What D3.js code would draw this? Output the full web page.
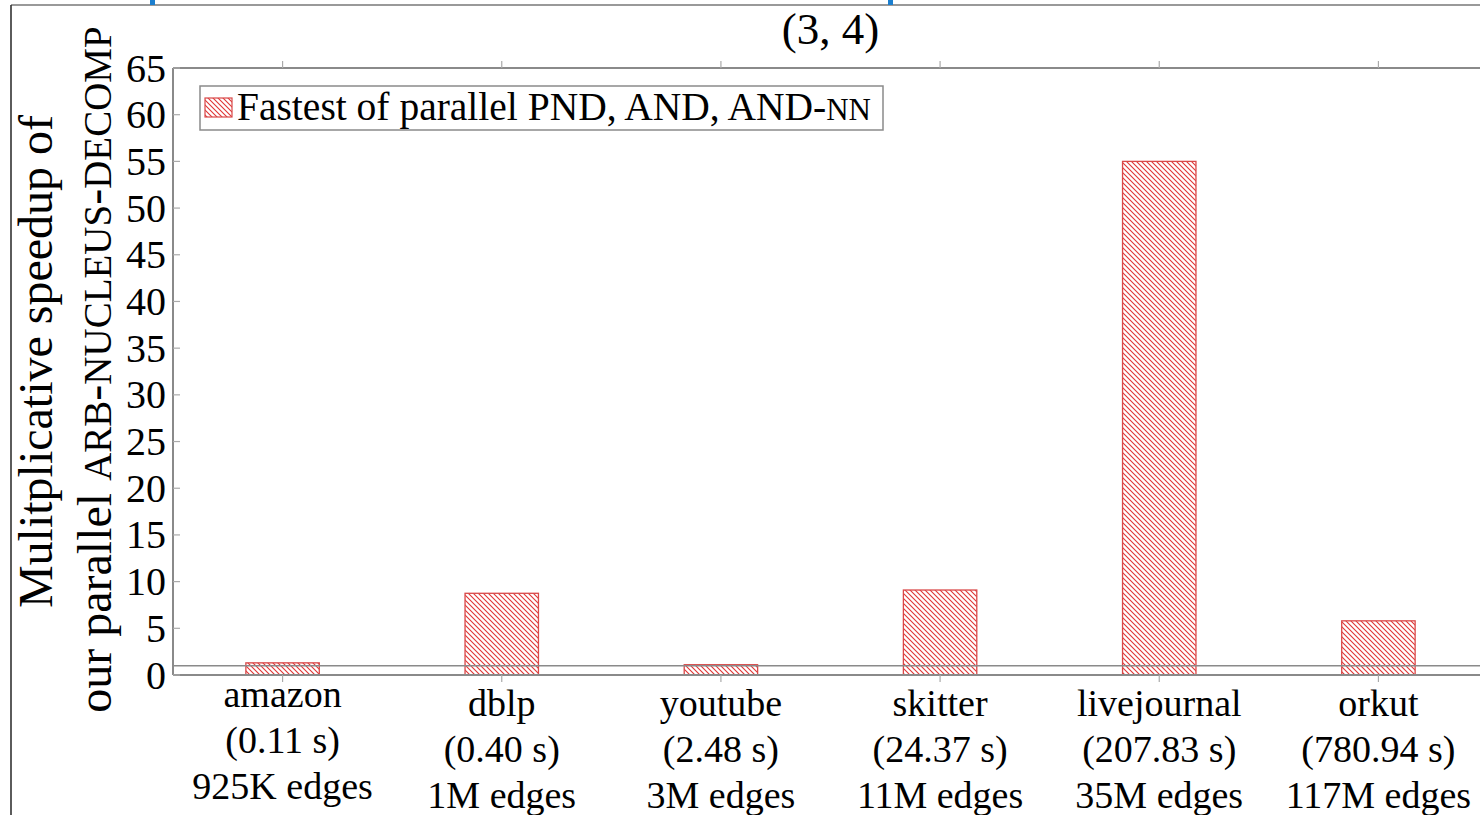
<!DOCTYPE html>
<html><head><meta charset="utf-8">
<script src="https://cdn.jsdelivr.net/npm/d3@7"></script>
<style>html,body{margin:0;padding:0;background:#fff;overflow:hidden}svg{display:block}</style>
</head><body>
<svg id="chart" width="1480" height="815"></svg>
<script>
const categories = ["amazon","dblp","youtube","skitter","livejournal","orkut"];
const runtimes = ["(0.11 s)","(0.40 s)","(2.48 s)","(24.37 s)","(207.83 s)","(780.94 s)"];
const edgeCounts = ["925K edges","1M edges","3M edges","11M edges","35M edges","117M edges"];
const speedup = [1.3, 8.75, 1.1, 9.1, 55.0, 5.8];
const yTicks = [0,5,10,15,20,25,30,35,40,45,50,55,60,65];
const referenceLine = 1;
const title = "(3, 4)";

const FONT = "'Liberation Serif','Times New Roman',serif";
const svg = d3.select("#chart");
const L = 173, R = 1488, T = 68, B = 675;
const red = "#e03535", axisGray = "#8a8a8a";

const x = d3.scaleBand().domain(categories).range([L, R]).paddingInner(0.665).paddingOuter(0.3325);
const y = d3.scaleLinear().domain([0, 65]).range([B, T]);

// pattern
const defs = svg.append("defs");
const pat = defs.append("pattern").attr("id","nwl").attr("patternUnits","userSpaceOnUse")
  .attr("width",5).attr("height",5);
pat.append("rect").attr("width",5).attr("height",5).attr("fill","#fff");
pat.append("path").attr("d","M0,0L5,5M-1,4L1,6M4,-1L6,1").attr("stroke",red).attr("stroke-width",1.1);

// outer frame + marks
svg.append("line").attr("x1",11).attr("x2",1480).attr("y1",5).attr("y2",5).attr("stroke","#777").attr("stroke-width",1.5);
svg.append("line").attr("x1",11).attr("x2",11).attr("y1",5).attr("y2",815).attr("stroke","#333").attr("stroke-width",1.6);
svg.append("rect").attr("x",150).attr("y",0).attr("width",5).attr("height",5).attr("fill","#1b7fcf");
svg.append("rect").attr("x",888).attr("y",0).attr("width",5).attr("height",5).attr("fill","#1b7fcf");

// bars
svg.append("g").selectAll("rect").data(categories).join("rect")
  .attr("x", d => x(d)).attr("width", x.bandwidth())
  .attr("y", (d,i) => y(speedup[i])).attr("height", (d,i) => y(0) - y(speedup[i]))
  .attr("fill","url(#nwl)").attr("stroke","#d94848").attr("stroke-width",1.3);

// reference line at 1
svg.append("line").attr("x1",L).attr("x2",R).attr("y1",y(referenceLine)).attr("y2",y(referenceLine))
  .attr("stroke",axisGray).attr("stroke-width",1.5);

// axes frame
const ax = svg.append("g");
ax.append("line").attr("x1",L).attr("x2",R).attr("y1",T).attr("y2",T).attr("stroke",axisGray).attr("stroke-width",2);
ax.append("line").attr("x1",L).attr("x2",R).attr("y1",B).attr("y2",B).attr("stroke",axisGray).attr("stroke-width",2);
ax.append("line").attr("x1",L).attr("x2",L).attr("y1",T).attr("y2",B).attr("stroke",axisGray).attr("stroke-width",2);
ax.append("line").attr("x1",R).attr("x2",R).attr("y1",T).attr("y2",B).attr("stroke",axisGray).attr("stroke-width",2);

// x ticks (outward top and bottom)
const xc = d => x(d) + x.bandwidth()/2;
ax.selectAll(".xtb").data(categories).join("line").attr("class","xtb").attr("x1",xc).attr("x2",xc).attr("y1",B).attr("y2",B+7).attr("stroke","#aaa").attr("stroke-width",1.2);
ax.selectAll(".xtt").data(categories).join("line").attr("class","xtt").attr("x1",xc).attr("x2",xc).attr("y1",T).attr("y2",T-7).attr("stroke","#aaa").attr("stroke-width",1.2);

// y ticks inward
ax.selectAll(".yt").data(yTicks).join("line").attr("class","yt").attr("x1",L).attr("x2",L+7).attr("y1",d=>y(d)).attr("y2",d=>y(d)).attr("stroke","#aaa").attr("stroke-width",1.2);
ax.selectAll(".ytl").data(yTicks).join("text").attr("class","ytl")
  .attr("x",166).attr("y",d=>y(d)+13.5).attr("text-anchor","end")
  .attr("font-family",FONT).attr("font-size",40).attr("fill","#000").text(d=>d);

// x labels
const cv = document.createElement("canvas").getContext("2d");
const xfs = 38;
cv.font = xfs + "px 'Liberation Serif'";
function ascent(s){ const m = cv.measureText(s); return (m && m.actualBoundingBoxAscent) ? m.actualBoundingBoxAscent : 0.68*xfs; }
const xl = svg.append("g").selectAll("text").data(categories).join("text")
  .attr("text-anchor","middle").attr("font-family",FONT).attr("font-size",xfs).attr("fill","#000");
xl.each(function(d,i){
  const t = d3.select(this);
  const b0 = 688.5 + ascent(d);
  [d, runtimes[i], edgeCounts[i]].forEach((s,k) => {
    t.append("tspan").attr("x", xc(d)).attr("y", b0 + k*46).text(s);
  });
});

// title
svg.append("text").attr("x",(L+R)/2).attr("y",44).attr("text-anchor","middle")
  .attr("font-family",FONT).attr("font-size",45).text(title);

// legend
const lg = svg.append("g");
lg.append("rect").attr("x",200).attr("y",86).attr("width",683).attr("height",44).attr("fill","#fff").attr("stroke",axisGray).attr("stroke-width",1.5);
lg.append("rect").attr("x",205).attr("y",98).attr("width",27).attr("height",19).attr("fill","url(#nwl)").attr("stroke","#d94848").attr("stroke-width",1.2);
const lt = lg.append("text").attr("x",237).attr("y",120).attr("font-family",FONT).attr("font-size",39.5);
lt.append("tspan").text("Fastest of parallel PND, AND, AND-");
lt.append("tspan").attr("font-size",31).text("NN");

// y label
const yc = (T+B)/2;
const yfs = 48, sc = 39;
svg.append("text").attr("transform",`translate(52,${yc - 10}) rotate(-90)`).attr("text-anchor","middle")
  .attr("font-family",FONT).attr("font-size",yfs).text("Mulitplicative speedup of");
const y2 = svg.append("text").attr("transform",`translate(111,${yc - 2}) rotate(-90)`).attr("text-anchor","middle")
  .attr("font-family",FONT).attr("font-size",yfs);
[["our parallel ",yfs],["ARB",sc],["-",yfs],["NUCLEUS",sc],["-",yfs],["DECOMP",sc]].forEach(([s,f]) => {
  y2.append("tspan").attr("font-size",f).text(s);
});
</script>
</body></html>
